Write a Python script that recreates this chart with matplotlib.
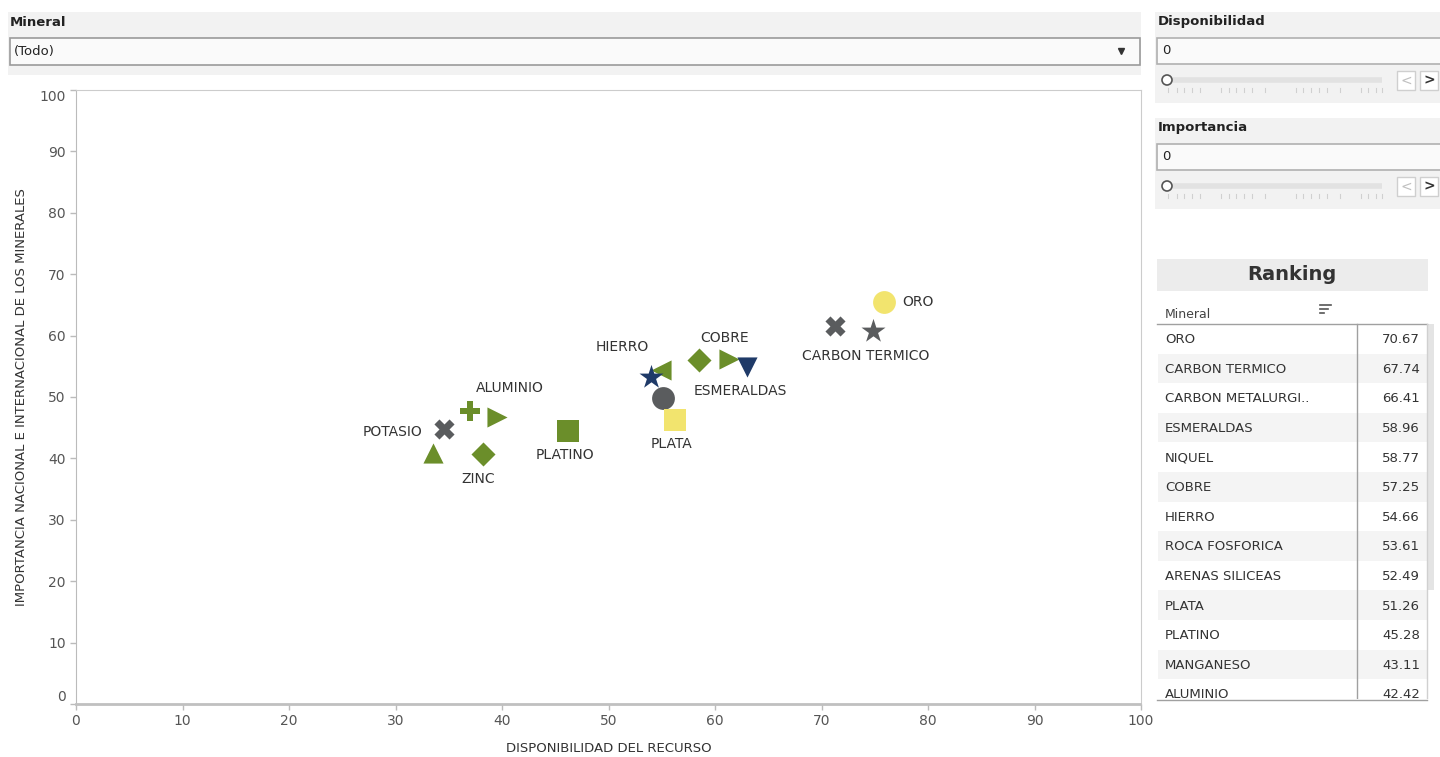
import matplotlib
matplotlib.use("Agg")
import matplotlib.pyplot as plt
from matplotlib.patches import Rectangle, Circle

# ---- data ----
minerales = ["ORO", "CARBON METALURGICO", "CARBON TERMICO", "NIQUEL", "COBRE",
             "ESMERALDAS", "HIERRO", "ROCA FOSFORICA", "ARENAS SILICEAS", "PLATA",
             "PLATINO", "MANGANESO", "ALUMINIO", "POTASIO", "ZINC", "OTRO"]
disponibilidad = [75.9, 71.3, 74.8, 61.3, 58.5, 63.0, 54.9, 54.0, 55.1, 56.2,
                  46.2, 39.5, 37.0, 34.6, 38.2, 33.5]
importancia = [65.4, 61.5, 60.7, 56.2, 56.0, 54.9, 54.4, 53.2, 49.9, 46.3,
               44.4, 46.7, 47.8, 44.8, 40.7, 40.9]
marcadores = ["o", "X", "*", ">", "D", "v", "<", "*", "o", "s",
              "s", ">", "P", "X", "D", "^"]
colores = ["#f2e46e", "#5a5c5e", "#5a5c5e", "#6b8e2a", "#6b8e2a", "#1f3a68",
           "#6b8e2a", "#1f3a68", "#5a5c5e", "#f2e46e", "#6b8e2a", "#6b8e2a",
           "#6b8e2a", "#5a5c5e", "#6b8e2a", "#6b8e2a"]

# data labels shown on the chart (text, anchor point index, offset px, ha)
etiquetas = [("ORO", 0, (18, 0), "left"),
             ("CARBON TERMICO", 2, (-7, 25), "center"),
             ("COBRE", 4, (26, -22), "center"),
             ("ESMERALDAS", 5, (-7, 24), "center"),
             ("HIERRO", 6, (-38, -23), "center"),
             ("PLATA", 9, (-3, 24), "center"),
             ("PLATINO", 10, (-3, 24), "center"),
             ("ALUMINIO", 12, (40, -23), "center"),
             ("POTASIO", 13, (-22, 3), "right"),
             ("ZINC", 14, (-5, 25), "center")]

rank_nombres = ["ORO", "CARBON TERMICO", "CARBON METALURGI..", "ESMERALDAS", "NIQUEL",
                "COBRE", "HIERRO", "ROCA FOSFORICA", "ARENAS SILICEAS", "PLATA",
                "PLATINO", "MANGANESO", "ALUMINIO"]
rank_valores = [70.67, 67.74, 66.41, 58.96, 58.77, 57.25, 54.66, 53.61, 52.49, 51.26,
                45.28, 43.11, 42.42]

W, H = 1440, 757
fig = plt.figure(figsize=(W / 100, H / 100), dpi=100)
fig.patch.set_facecolor("white")

# ---- overlay axes in pixel coords for the report widgets ----
ui = fig.add_axes([0, 0, 1, 1])
ui.set_xlim(0, W)
ui.set_ylim(H, 0)
ui.axis("off")


def rect(x0, y0, x1, y1, fc, ec="none", lw=1.0, z=1):
    ui.add_patch(Rectangle((x0, y0), x1 - x0, y1 - y0, facecolor=fc, edgecolor=ec, lw=lw, zorder=z))


# Mineral slicer
rect(8, 12, 1141, 75, "#f2f2f2")
ui.text(10, 22, "Mineral", fontsize=9.5, fontweight="bold", va="center", color="#222222")
rect(10, 38, 1140, 65, "#fafafa", "#9a9a9a", 1.2)
ui.text(14, 51, "(Todo)", fontsize=9.5, va="center", color="#222222")
ui.plot([1121], [51], marker="v", ms=4, color="#333333")

# range slicers
slider_ticks = [1168, 1177, 1184, 1192, 1200, 1221, 1229, 1236, 1244, 1252, 1265,
                1296, 1303, 1311, 1319, 1327, 1340, 1361, 1368, 1376, 1382]
for titulo, y0 in [("Disponibilidad", 12), ("Importancia", 118)]:
    rect(1155, y0, 1440, y0 + 91, "#f2f2f2")
    ui.text(1158, y0 + 10, titulo, fontsize=9.5, fontweight="bold",
            va="center", color="#222222")
    rect(1157, y0 + 26, 1442, y0 + 52, "#fafafa", "#b0b0b0", 1.2)
    ui.text(1162, y0 + 39, "0", fontsize=9.5, va="center", color="#222222")
    ui.plot([1167, 1382], [y0 + 68, y0 + 68], color="#e2e2e2", lw=4, solid_capstyle="butt")
    for tx in slider_ticks:
        ui.plot([tx, tx], [y0 + 76, y0 + 80], color="#d0d0d0", lw=0.8)
    ui.add_patch(Circle((1167, y0 + 68), 5, facecolor="white", edgecolor="#555555", lw=1.2, zorder=4))
    rect(1397, y0 + 59, 1415, y0 + 78, "white", "#cfcfcf")
    ui.text(1406, y0 + 68.5, "<", fontsize=10, ha="center", va="center", color="#c0c0c0")
    rect(1420, y0 + 59, 1438, y0 + 78, "white", "#cfcfcf")
    ui.text(1429, y0 + 68.5, ">", fontsize=10, fontweight="bold", ha="center", va="center",
            color="#333333")

# Ranking table
rect(1157, 259, 1428, 291, "#ececec")
ui.text(1292, 275, "Ranking", fontsize=14, fontweight="bold", ha="center", va="center", color="#333333")
ui.text(1165, 315, "Mineral", fontsize=9, va="center", color="#444444")
for i, ln in enumerate([11, 8, 4]):
    ui.plot([1320, 1320 + ln], [305 + 4 * i, 305 + 4 * i], color="#555555", lw=1.2)
row_h = 29.6
top = 324
for i, (n, v) in enumerate(zip(rank_nombres, rank_valores)):
    yc = top + row_h * (i + 0.5)
    if i % 2 == 1:
        rect(1158, top + row_h * i, 1427, top + row_h * (i + 1), "#f4f4f4")
    ui.text(1165, yc + 1, n, fontsize=9.5, va="center", color="#333333")
    ui.text(1420, yc + 1, "%.2f" % v, fontsize=9.5, ha="right", va="center", color="#333333")
rect(1150, 699, W, H, "white", z=5)
ui.plot([1157, 1427], [324, 324], color="#a0a0a0", lw=1)
ui.plot([1157, 1427], [700, 700], color="#a0a0a0", lw=1, zorder=6)
ui.plot([1357, 1357], [324, 700], color="#a0a0a0", lw=1)
ui.plot([1427, 1427], [324, 700], color="#d0d0d0", lw=1)
rect(1428, 324, 1434, 590, "#e4e4e4")

# ---- scatter ----
ax = fig.add_axes([76 / W, 1 - 704 / H, (1141 - 76) / W, (704 - 90) / H])
for x, y, m, c in zip(disponibilidad, importancia, marcadores, colores):
    size = {"*": 330, "D": 150, "P": 210, "X": 210, "o": 270, "s": 230}.get(m, 210)
    ax.scatter(x, y, marker=m, s=size, color=c, linewidths=0, zorder=3)

for txt, idx, (dx, dy), ha in etiquetas:
    ax.annotate(txt, (disponibilidad[idx], importancia[idx]),
                xytext=(dx * 0.72, -dy * 0.72), textcoords="offset points",
                ha=ha, va="center", fontsize=10, color="#333333")

ax.set_xlim(0, 100)
ax.set_ylim(0, 100)
ax.set_xticks(range(0, 101, 10))
ax.set_yticks(range(0, 101, 10))
ax.tick_params(axis="both", colors="#bbbbbb", length=4, width=1, labelcolor="#555555",
               labelsize=10)
ylabels = ax.get_yticklabels()
ylabels[0].set_va("bottom")
ylabels[-1].set_va("top")
for s in ["top", "right"]:
    ax.spines[s].set_color("#cccccc")
ax.spines["left"].set_color("#bbbbbb")
ax.spines["bottom"].set_color("#c0c0c0")
ax.spines["bottom"].set_linestyle((0, (1, 1)))
ax.spines["bottom"].set_linewidth(2)
ax.set_xlabel("DISPONIBILIDAD DEL RECURSO", fontsize=9.5, color="#333333", labelpad=10)
ax.set_ylabel("IMPORTANCIA NACIONAL E INTERNACIONAL DE LOS MINERALES", fontsize=9.5,
              color="#333333", labelpad=8)

fig.savefig("out.png", dpi=100)
